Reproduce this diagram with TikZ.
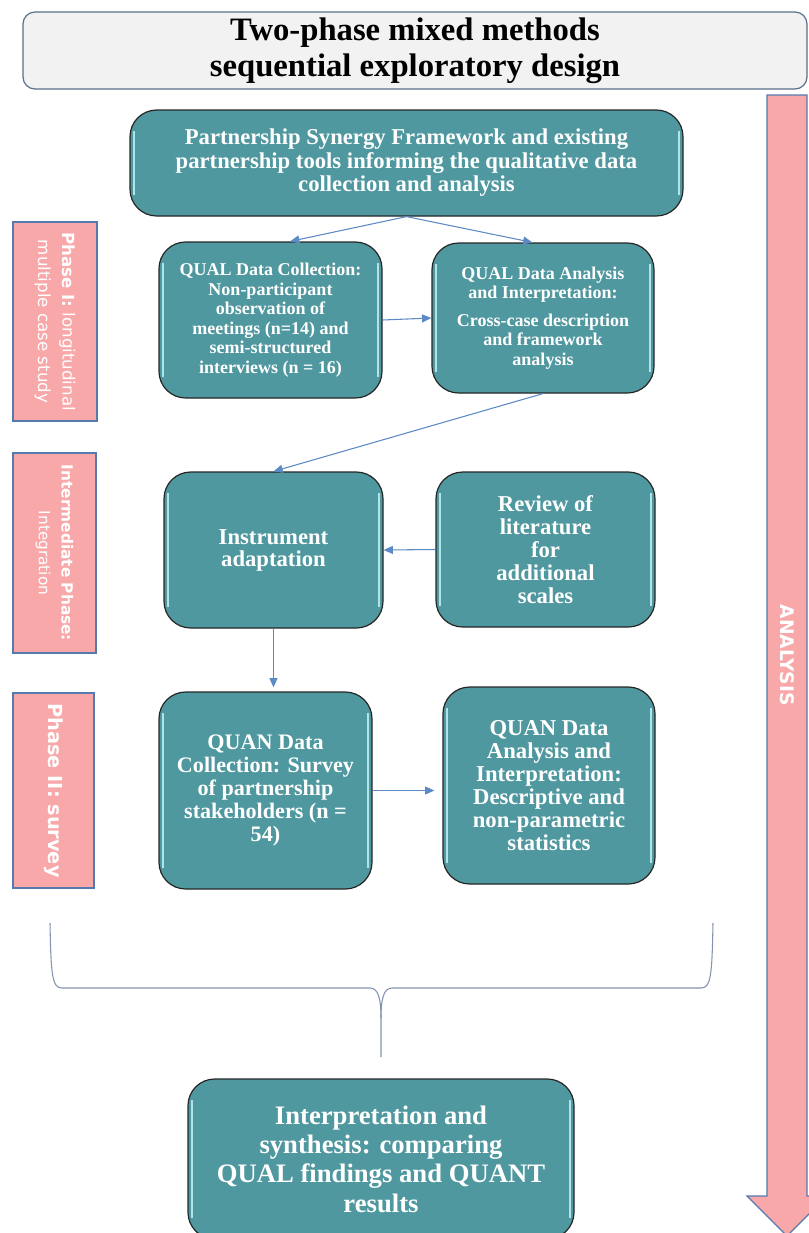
\documentclass[tikz,border=0pt]{standalone}
\usepackage{fontspec}
\setmainfont{Liberation Serif}
\newfontfamily\phasefont{DejaVu Sans}
\usetikzlibrary{arrows.meta}

\definecolor{tealfill}{RGB}{80,152,159}
\definecolor{tealglint}{RGB}{175,228,235}
\definecolor{phasepink}{RGB}{249,168,170}
\definecolor{phaseblue}{RGB}{84,122,176}
\definecolor{linkblue}{RGB}{92,138,196}
\definecolor{headgray}{RGB}{242,242,242}
\definecolor{headline}{RGB}{88,112,140}
\definecolor{bracegray}{RGB}{130,148,175}

\def\px{0.75pt}

\tikzset{
  tealbox/.style={draw=black!85, line width=0.9pt, fill=tealfill, rounded corners=20pt,
    text=white, align=center, inner sep=2pt,
    path picture={
      \draw[tealglint, line width=1.1pt]
        ([shift={(3pt,-16pt)}]path picture bounding box.north west) --
        ([shift={(3pt,16pt)}]path picture bounding box.south west);
      \draw[tealglint, line width=1.1pt]
        ([shift={(-3pt,-16pt)}]path picture bounding box.north east) --
        ([shift={(-3pt,16pt)}]path picture bounding box.south east);
    }},
  phasebox/.style={draw=phaseblue, line width=0.9pt, fill=phasepink, text=white,
    align=center, rotate=-90, font=\phasefont},
  link/.style={draw=linkblue, line width=0.8pt, -{Triangle[length=7pt,width=6pt]}}
}

\begin{document}
\begin{tikzpicture}[x=\px, y=-\px]

    % 1. Page frame (pixel grid, y downwards)
    \useasboundingbox (0,0) rectangle (809,1233);

    % 2. Title box
    \node [draw=headline, line width=0.9pt, fill=headgray, rounded corners=9pt,
           minimum width=784*\px, minimum height=77*\px, align=center,
           font=\bfseries\fontsize{24.5}{27}\selectfont] (title) at (415,50.5)
          {Two-phase mixed methods\\sequential exploratory design};

    % 3. Analysis arrow down the right side
    \draw [fill=phasepink, draw=phaseblue, line width=0.9pt]
      (767,95) -- (807,95) -- (807,1196) -- (827,1196) -- (787,1236)
      -- (747,1196) -- (767,1196) -- cycle;
    \node [rotate=-90, text=white, font=\phasefont\bfseries\fontsize{14}{16}\selectfont]
      (analysis) at (787,655) {ANALYSIS};

    % 4. Phase labels on the left
    \node [phasebox, minimum width=199*\px, minimum height=84*\px,
           font=\phasefont\fontsize{12.5}{18.5}\selectfont] (phaseone) at (55,321.5)
          {{\bfseries Phase I:} longitudinal\\multiple case study};
    \node [phasebox, minimum width=200*\px, minimum height=83*\px,
           font=\phasefont\fontsize{11.5}{17}\selectfont] (phasemid) at (54.5,553)
          {{\bfseries Intermediate Phase:}\\Integration};
    \node [phasebox, minimum width=195*\px, minimum height=81*\px,
           font=\phasefont\bfseries\fontsize{14.5}{17}\selectfont] (phasetwo) at (53.5,790.5)
          {Phase II: survey};

    % 5. Framework box
    \node [tealbox, minimum width=553*\px, minimum height=106*\px,
           font=\bfseries\fontsize{17}{17.6}\selectfont] (frame) at (406.5,163)
          {Partnership Synergy Framework and existing\\
           partnership tools informing the qualitative data\\
           collection and analysis};

    % 6. Phase I boxes
    \node [tealbox, minimum width=223*\px, minimum height=156*\px,
           font=\bfseries\fontsize{13.5}{14.6}\selectfont] (qualcoll) at (270.5,320)
          {QUAL Data Collection:\\Non-participant\\observation of\\
           meetings (n=14) and\\semi-structured\\interviews (n = 16)};
    \node [tealbox, minimum width=222*\px, minimum height=150*\px,
           font=\bfseries\fontsize{13.5}{14.6}\selectfont] (qualanal) at (543,318)
          {QUAL Data Analysis\\and Interpretation:\\[6pt]
           Cross-case description\\and framework\\analysis};

    % 7. Intermediate phase boxes
    \node [tealbox, minimum width=219*\px, minimum height=156*\px,
           font=\bfseries\fontsize{17}{16.5}\selectfont] (instr) at (273.5,550)
          {Instrument\\adaptation};
    \node [tealbox, minimum width=219*\px, minimum height=155*\px,
           font=\bfseries\fontsize{17}{17.3}\selectfont] (review) at (545.5,549.5)
          {Review of\\literature\\for\\additional\\scales};

    % 8. Phase II boxes
    \node [tealbox, minimum width=213*\px, minimum height=197*\px,
           font=\bfseries\fontsize{16.6}{17.3}\selectfont] (quancoll) at (265.5,790.5)
          {QUAN Data\\Collection: Survey\\of partnership\\stakeholders (n =\\54)};
    \node [tealbox, minimum width=212*\px, minimum height=197*\px,
           font=\bfseries\fontsize{17}{17.3}\selectfont] (quananal) at (549,785.5)
          {QUAN Data\\Analysis and\\Interpretation:\\Descriptive and\\
           non-parametric\\statistics};

    % 9. Synthesis box (runs off the bottom edge)
    \node [tealbox, minimum width=386*\px, minimum height=160*\px,
           font=\bfseries\fontsize{20}{22}\selectfont] (synth) at (381,1159)
          {Interpretation and\\synthesis: comparing\\QUAL findings and QUANT\\results};

    % 10. Connectors
    \draw [link] (frame.south) -- (qualcoll.76);
    \draw [link] (frame.south) -- (qualanal.98);
    \draw [link] (qualcoll.east) -- (qualanal.west);
    \draw [link] (qualanal.south) -- (instr.north);
    \draw [link] (review.west) -- (instr.east);
    \draw [link, shorten >=3pt] (instr.south) -- (instr.south |- quancoll.north);
    \draw [link, shorten >=6pt] (quancoll.east) -- (quancoll.east -| quananal.west);

    % 11. Brace gathering the phases
    \coordinate (tip) at (381,1057);
    \draw [bracegray, line width=0.8pt]
      (50,923) .. controls (51,975) and (52,988) .. (62,988) -- (370,988)
      .. controls (378,988) and (381,998) .. (381,1018) -- (tip);
    \draw [bracegray, line width=0.8pt]
      (713,923) .. controls (712,975) and (711,988) .. (701,988) -- (392,988)
      .. controls (384,988) and (381,998) .. (381,1018);

\end{tikzpicture}
\end{document}
